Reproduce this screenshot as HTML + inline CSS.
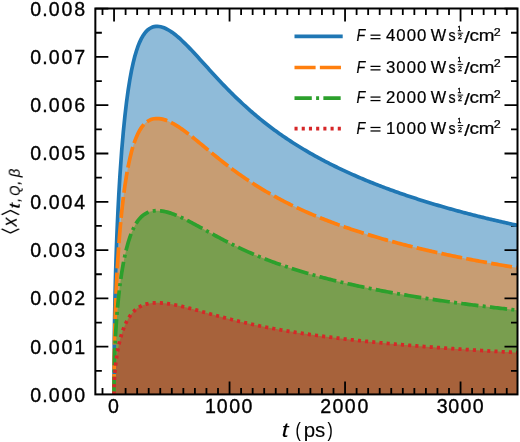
<!DOCTYPE html>
<html><head><meta charset="utf-8"><style>
html,body{margin:0;padding:0;background:#fff;}
svg{display:block;filter:blur(0.4px);font-family:"Liberation Sans",sans-serif;}
text{stroke:#000;stroke-width:0.105px;}
.tk text{stroke-width:0.35px;}
.lg text{stroke-width:0.21px;}
.lg text.fr{stroke-width:0.35px;}
</style></head><body>
<svg width="520" height="442" viewBox="0 0 520 442">
<rect width="520" height="442" fill="#fff"/>
<g style="will-change:transform">
<defs><clipPath id="ax"><rect x="95.35" y="8.5" width="422.15" height="385.9"/></clipPath></defs>
<g clip-path="url(#ax)"><path d="M114.05,395.00 L114.05,393.51 L114.05,393.38 L114.05,393.23 L114.05,393.07 L114.05,392.90 L114.05,392.72 L114.05,392.52 L114.05,392.30 L114.05,392.06 L114.05,391.79 L114.05,391.51 L114.05,391.20 L114.05,390.86 L114.05,390.50 L114.05,390.10 L114.05,389.66 L114.05,389.19 L114.05,388.68 L114.05,388.12 L114.05,387.51 L114.05,386.84 L114.06,386.12 L114.06,385.33 L114.06,384.47 L114.06,383.54 L114.06,382.52 L114.06,381.42 L114.07,380.21 L114.07,378.90 L114.07,377.48 L114.08,375.92 L114.08,374.23 L114.09,372.39 L114.10,370.39 L114.11,368.20 L114.12,365.83 L114.14,363.24 L114.15,360.43 L114.17,357.36 L114.20,354.03 L114.23,350.40 L114.26,346.45 L114.31,342.15 L114.36,337.47 L114.42,332.37 L114.49,326.83 L114.58,320.80 L114.69,314.24 L114.82,307.11 L114.97,299.37 L115.16,290.95 L115.38,281.81 L115.65,271.90 L115.97,261.17 L116.36,249.56 L116.82,237.04 L117.38,223.56 L118.05,209.11 L118.86,193.70 L119.83,177.36 L120.06,173.76 L121.68,150.98 L123.31,131.92 L124.94,115.74 L126.56,101.90 L128.19,90.00 L129.82,79.76 L131.44,70.93 L133.07,63.33 L134.70,56.80 L136.32,51.20 L137.95,46.41 L139.58,42.34 L141.20,38.90 L142.83,36.00 L144.46,33.59 L146.08,31.61 L147.71,30.01 L149.34,28.75 L150.97,27.78 L152.59,27.09 L154.22,26.63 L155.85,26.39 L157.47,26.34 L159.10,26.47 L160.73,26.77 L162.35,27.21 L163.98,27.79 L165.61,28.49 L167.23,29.31 L168.86,30.23 L170.49,31.25 L172.11,32.36 L173.74,33.54 L175.37,34.81 L176.99,36.14 L178.62,37.53 L180.25,38.98 L181.87,40.49 L183.50,42.04 L185.13,43.63 L186.76,45.25 L188.38,46.91 L190.01,48.60 L191.64,50.31 L193.26,52.05 L194.89,53.80 L196.52,55.56 L198.14,57.34 L199.77,59.13 L201.40,60.92 L203.02,62.72 L204.65,64.51 L206.28,66.31 L207.90,68.11 L209.53,69.90 L211.16,71.68 L212.78,73.46 L214.41,75.23 L216.04,76.99 L217.66,78.74 L219.29,80.48 L220.92,82.20 L222.55,83.91 L224.17,85.61 L225.80,87.29 L227.43,88.96 L229.05,90.62 L230.68,92.25 L232.31,93.87 L233.93,95.48 L235.56,97.06 L237.19,98.63 L238.81,100.19 L240.44,101.72 L242.07,103.24 L243.69,104.74 L245.32,106.23 L246.95,107.69 L248.57,109.14 L250.20,110.58 L251.83,111.99 L253.45,113.39 L255.08,114.78 L256.71,116.14 L258.33,117.49 L259.96,118.83 L261.59,120.15 L263.22,121.45 L264.84,122.74 L266.47,124.01 L268.10,125.26 L269.72,126.50 L271.35,127.73 L272.98,128.94 L274.60,130.14 L276.23,131.33 L277.86,132.50 L279.48,133.65 L281.11,134.79 L282.74,135.92 L284.36,137.04 L285.99,138.14 L287.62,139.24 L289.24,140.31 L290.87,141.38 L292.50,142.44 L294.12,143.48 L295.75,144.51 L297.38,145.53 L299.01,146.54 L300.63,147.54 L302.26,148.52 L303.89,149.50 L305.51,150.46 L307.14,151.42 L308.77,152.36 L310.39,153.30 L312.02,154.22 L313.65,155.14 L315.27,156.05 L316.90,156.94 L318.53,157.83 L320.15,158.71 L321.78,159.58 L323.41,160.44 L325.03,161.29 L326.66,162.14 L328.29,162.97 L329.91,163.80 L331.54,164.62 L333.17,165.43 L334.80,166.24 L336.42,167.03 L338.05,167.82 L339.68,168.60 L341.30,169.37 L342.93,170.14 L344.56,170.90 L346.18,171.65 L347.81,172.40 L349.44,173.14 L351.06,173.87 L352.69,174.59 L354.32,175.31 L355.94,176.03 L357.57,176.73 L359.20,177.43 L360.82,178.13 L362.45,178.81 L364.08,179.50 L365.70,180.17 L367.33,180.84 L368.96,181.51 L370.58,182.17 L372.21,182.82 L373.84,183.47 L375.47,184.11 L377.09,184.75 L378.72,185.38 L380.35,186.01 L381.97,186.63 L383.60,187.24 L385.23,187.86 L386.85,188.46 L388.48,189.06 L390.11,189.66 L391.73,190.25 L393.36,190.84 L394.99,191.43 L396.61,192.00 L398.24,192.58 L399.87,193.15 L401.49,193.71 L403.12,194.27 L404.75,194.83 L406.37,195.38 L408.00,195.93 L409.63,196.48 L411.26,197.02 L412.88,197.55 L414.51,198.08 L416.14,198.61 L417.76,199.14 L419.39,199.66 L421.02,200.17 L422.64,200.69 L424.27,201.20 L425.90,201.70 L427.52,202.20 L429.15,202.70 L430.78,203.20 L432.40,203.69 L434.03,204.18 L435.66,204.66 L437.28,205.14 L438.91,205.62 L440.54,206.10 L442.16,206.57 L443.79,207.04 L445.42,207.50 L447.04,207.96 L448.67,208.42 L450.30,208.88 L451.93,209.33 L453.55,209.78 L455.18,210.23 L456.81,210.67 L458.43,211.11 L460.06,211.55 L461.69,211.99 L463.31,212.42 L464.94,212.85 L466.57,213.28 L468.19,213.70 L469.82,214.12 L471.45,214.54 L473.07,214.96 L474.70,215.37 L476.33,215.78 L477.95,216.19 L479.58,216.59 L481.21,217.00 L482.83,217.40 L484.46,217.80 L486.09,218.19 L487.72,218.59 L489.34,218.98 L490.97,219.36 L492.60,219.75 L494.22,220.13 L495.85,220.52 L497.48,220.90 L499.10,221.27 L500.73,221.65 L502.36,222.02 L503.98,222.39 L505.61,222.76 L507.24,223.12 L508.86,223.49 L510.49,223.85 L512.12,224.21 L513.74,224.57 L515.37,224.92 L517.00,225.28 L518.62,225.63 L520.25,225.98 L521.88,226.33 L523.51,226.67 L525.13,227.01 L526.76,227.36 L528.39,227.70 L530.01,228.03 L531.64,228.37 L533.27,228.70 L534.89,229.04 L536.52,229.37 L538.15,229.70 L539.77,230.02 L541.40,230.35 L541.40,395.00 L114.05,395.00 Z" fill="#1f77b4" fill-opacity="0.5"/><path d="M114.05,395.00 L114.05,393.88 L114.05,393.78 L114.05,393.67 L114.05,393.56 L114.05,393.43 L114.05,393.29 L114.05,393.14 L114.05,392.97 L114.05,392.79 L114.05,392.60 L114.05,392.38 L114.05,392.15 L114.05,391.90 L114.05,391.62 L114.05,391.32 L114.05,391.00 L114.05,390.64 L114.05,390.26 L114.05,389.84 L114.05,389.38 L114.05,388.88 L114.06,388.34 L114.06,387.75 L114.06,387.10 L114.06,386.40 L114.06,385.64 L114.06,384.81 L114.07,383.91 L114.07,382.93 L114.07,381.86 L114.08,380.69 L114.08,379.42 L114.09,378.04 L114.10,376.54 L114.11,374.90 L114.12,373.12 L114.14,371.18 L114.15,369.07 L114.17,366.77 L114.20,364.27 L114.23,361.55 L114.26,358.59 L114.31,355.36 L114.36,351.85 L114.42,348.03 L114.49,343.87 L114.58,339.35 L114.69,334.43 L114.82,329.09 L114.97,323.27 L115.16,316.96 L115.38,310.11 L115.65,302.68 L115.97,294.63 L116.36,285.92 L116.82,276.53 L117.38,266.42 L118.05,255.58 L118.86,244.02 L119.83,231.77 L120.06,229.07 L121.68,211.99 L123.31,197.69 L124.94,185.55 L126.56,175.17 L128.19,166.25 L129.82,158.57 L131.44,151.95 L133.07,146.25 L134.70,141.35 L136.32,137.15 L137.95,133.56 L139.58,130.51 L141.20,127.92 L142.83,125.75 L144.46,123.95 L146.08,122.46 L147.71,121.26 L149.34,120.31 L150.97,119.59 L152.59,119.06 L154.22,118.72 L155.85,118.54 L157.47,118.51 L159.10,118.61 L160.73,118.83 L162.35,119.16 L163.98,119.59 L165.61,120.12 L167.23,120.73 L168.86,121.42 L170.49,122.19 L172.11,123.02 L173.74,123.91 L175.37,124.86 L176.99,125.85 L178.62,126.90 L180.25,127.99 L181.87,129.12 L183.50,130.28 L185.13,131.47 L186.76,132.69 L188.38,133.93 L190.01,135.20 L191.64,136.48 L193.26,137.78 L194.89,139.10 L196.52,140.42 L198.14,141.76 L199.77,143.10 L201.40,144.44 L203.02,145.79 L204.65,147.14 L206.28,148.48 L207.90,149.83 L209.53,151.17 L211.16,152.51 L212.78,153.85 L214.41,155.17 L216.04,156.49 L217.66,157.80 L219.29,159.11 L220.92,160.40 L222.55,161.69 L224.17,162.96 L225.80,164.22 L227.43,165.47 L229.05,166.71 L230.68,167.94 L232.31,169.15 L233.93,170.36 L235.56,171.55 L237.19,172.72 L238.81,173.89 L240.44,175.04 L242.07,176.18 L243.69,177.31 L245.32,178.42 L246.95,179.52 L248.57,180.61 L250.20,181.68 L251.83,182.75 L253.45,183.79 L255.08,184.83 L256.71,185.86 L258.33,186.87 L259.96,187.87 L261.59,188.86 L263.22,189.84 L264.84,190.80 L266.47,191.75 L268.10,192.70 L269.72,193.63 L271.35,194.55 L272.98,195.46 L274.60,196.36 L276.23,197.24 L277.86,198.12 L279.48,198.99 L281.11,199.85 L282.74,200.69 L284.36,201.53 L285.99,202.36 L287.62,203.18 L289.24,203.99 L290.87,204.79 L292.50,205.58 L294.12,206.36 L295.75,207.13 L297.38,207.90 L299.01,208.65 L300.63,209.40 L302.26,210.14 L303.89,210.87 L305.51,211.60 L307.14,212.31 L308.77,213.02 L310.39,213.72 L312.02,214.42 L313.65,215.11 L315.27,215.78 L316.90,216.46 L318.53,217.12 L320.15,217.78 L321.78,218.43 L323.41,219.08 L325.03,219.72 L326.66,220.35 L328.29,220.98 L329.91,221.60 L331.54,222.22 L333.17,222.82 L334.80,223.43 L336.42,224.02 L338.05,224.62 L339.68,225.20 L341.30,225.78 L342.93,226.36 L344.56,226.93 L346.18,227.49 L347.81,228.05 L349.44,228.60 L351.06,229.15 L352.69,229.70 L354.32,230.24 L355.94,230.77 L357.57,231.30 L359.20,231.82 L360.82,232.35 L362.45,232.86 L364.08,233.37 L365.70,233.88 L367.33,234.38 L368.96,234.88 L370.58,235.37 L372.21,235.86 L373.84,236.35 L375.47,236.83 L377.09,237.31 L378.72,237.78 L380.35,238.25 L381.97,238.72 L383.60,239.18 L385.23,239.64 L386.85,240.10 L388.48,240.55 L390.11,241.00 L391.73,241.44 L393.36,241.88 L394.99,242.32 L396.61,242.75 L398.24,243.18 L399.87,243.61 L401.49,244.03 L403.12,244.46 L404.75,244.87 L406.37,245.29 L408.00,245.70 L409.63,246.11 L411.26,246.51 L412.88,246.91 L414.51,247.31 L416.14,247.71 L417.76,248.10 L419.39,248.49 L421.02,248.88 L422.64,249.27 L424.27,249.65 L425.90,250.03 L427.52,250.40 L429.15,250.78 L430.78,251.15 L432.40,251.52 L434.03,251.88 L435.66,252.25 L437.28,252.61 L438.91,252.97 L440.54,253.32 L442.16,253.68 L443.79,254.03 L445.42,254.38 L447.04,254.72 L448.67,255.07 L450.30,255.41 L451.93,255.75 L453.55,256.09 L455.18,256.42 L456.81,256.75 L458.43,257.09 L460.06,257.41 L461.69,257.74 L463.31,258.06 L464.94,258.39 L466.57,258.71 L468.19,259.02 L469.82,259.34 L471.45,259.65 L473.07,259.97 L474.70,260.28 L476.33,260.58 L477.95,260.89 L479.58,261.20 L481.21,261.50 L482.83,261.80 L484.46,262.10 L486.09,262.39 L487.72,262.69 L489.34,262.98 L490.97,263.27 L492.60,263.56 L494.22,263.85 L495.85,264.14 L497.48,264.42 L499.10,264.70 L500.73,264.99 L502.36,265.26 L503.98,265.54 L505.61,265.82 L507.24,266.09 L508.86,266.37 L510.49,266.64 L512.12,266.91 L513.74,267.18 L515.37,267.44 L517.00,267.71 L518.62,267.97 L520.25,268.23 L521.88,268.49 L523.51,268.75 L525.13,269.01 L526.76,269.27 L528.39,269.52 L530.01,269.78 L531.64,270.03 L533.27,270.28 L534.89,270.53 L536.52,270.78 L538.15,271.02 L539.77,271.27 L541.40,271.51 L541.40,395.00 L114.05,395.00 Z" fill="#ff7f0e" fill-opacity="0.5"/><path d="M114.05,395.00 L114.05,394.25 L114.05,394.19 L114.05,394.12 L114.05,394.04 L114.05,393.95 L114.05,393.86 L114.05,393.76 L114.05,393.65 L114.05,393.53 L114.05,393.40 L114.05,393.26 L114.05,393.10 L114.05,392.93 L114.05,392.75 L114.05,392.55 L114.05,392.33 L114.05,392.10 L114.05,391.84 L114.05,391.56 L114.05,391.25 L114.05,390.92 L114.06,390.56 L114.06,390.17 L114.06,389.74 L114.06,389.27 L114.06,388.76 L114.06,388.21 L114.07,387.61 L114.07,386.95 L114.07,386.24 L114.08,385.46 L114.08,384.62 L114.09,383.70 L114.10,382.69 L114.11,381.60 L114.12,380.41 L114.14,379.12 L114.15,377.71 L114.17,376.18 L114.20,374.51 L114.23,372.70 L114.26,370.72 L114.31,368.57 L114.36,366.23 L114.42,363.69 L114.49,360.92 L114.58,357.90 L114.69,354.62 L114.82,351.06 L114.97,347.18 L115.16,342.97 L115.38,338.41 L115.65,333.45 L115.97,328.09 L116.36,322.28 L116.82,316.02 L117.38,309.28 L118.05,302.06 L118.86,294.35 L119.83,286.18 L120.06,284.38 L121.68,272.99 L123.31,263.46 L124.94,255.37 L126.56,248.45 L128.19,242.50 L129.82,237.38 L131.44,232.97 L133.07,229.17 L134.70,225.90 L136.32,223.10 L137.95,220.71 L139.58,218.67 L141.20,216.95 L142.83,215.50 L144.46,214.30 L146.08,213.31 L147.71,212.51 L149.34,211.87 L150.97,211.39 L152.59,211.04 L154.22,210.81 L155.85,210.69 L157.47,210.67 L159.10,210.74 L160.73,210.88 L162.35,211.11 L163.98,211.39 L165.61,211.75 L167.23,212.15 L168.86,212.61 L170.49,213.12 L172.11,213.68 L173.74,214.27 L175.37,214.90 L176.99,215.57 L178.62,216.27 L180.25,216.99 L181.87,217.74 L183.50,218.52 L185.13,219.31 L186.76,220.13 L188.38,220.96 L190.01,221.80 L191.64,222.66 L193.26,223.52 L194.89,224.40 L196.52,225.28 L198.14,226.17 L199.77,227.06 L201.40,227.96 L203.02,228.86 L204.65,229.76 L206.28,230.66 L207.90,231.55 L209.53,232.45 L211.16,233.34 L212.78,234.23 L214.41,235.12 L216.04,236.00 L217.66,236.87 L219.29,237.74 L220.92,238.60 L222.55,239.46 L224.17,240.31 L225.80,241.15 L227.43,241.98 L229.05,242.81 L230.68,243.63 L232.31,244.44 L233.93,245.24 L235.56,246.03 L237.19,246.82 L238.81,247.59 L240.44,248.36 L242.07,249.12 L243.69,249.87 L245.32,250.61 L246.95,251.35 L248.57,252.07 L250.20,252.79 L251.83,253.50 L253.45,254.20 L255.08,254.89 L256.71,255.57 L258.33,256.25 L259.96,256.91 L261.59,257.57 L263.22,258.22 L264.84,258.87 L266.47,259.50 L268.10,260.13 L269.72,260.75 L271.35,261.37 L272.98,261.97 L274.60,262.57 L276.23,263.16 L277.86,263.75 L279.48,264.33 L281.11,264.90 L282.74,265.46 L284.36,266.02 L285.99,266.57 L287.62,267.12 L289.24,267.66 L290.87,268.19 L292.50,268.72 L294.12,269.24 L295.75,269.75 L297.38,270.26 L299.01,270.77 L300.63,271.27 L302.26,271.76 L303.89,272.25 L305.51,272.73 L307.14,273.21 L308.77,273.68 L310.39,274.15 L312.02,274.61 L313.65,275.07 L315.27,275.52 L316.90,275.97 L318.53,276.42 L320.15,276.85 L321.78,277.29 L323.41,277.72 L325.03,278.15 L326.66,278.57 L328.29,278.99 L329.91,279.40 L331.54,279.81 L333.17,280.22 L334.80,280.62 L336.42,281.02 L338.05,281.41 L339.68,281.80 L341.30,282.19 L342.93,282.57 L344.56,282.95 L346.18,283.33 L347.81,283.70 L349.44,284.07 L351.06,284.43 L352.69,284.80 L354.32,285.16 L355.94,285.51 L357.57,285.87 L359.20,286.22 L360.82,286.56 L362.45,286.91 L364.08,287.25 L365.70,287.59 L367.33,287.92 L368.96,288.25 L370.58,288.58 L372.21,288.91 L373.84,289.23 L375.47,289.56 L377.09,289.87 L378.72,290.19 L380.35,290.50 L381.97,290.81 L383.60,291.12 L385.23,291.43 L386.85,291.73 L388.48,292.03 L390.11,292.33 L391.73,292.63 L393.36,292.92 L394.99,293.21 L396.61,293.50 L398.24,293.79 L399.87,294.07 L401.49,294.36 L403.12,294.64 L404.75,294.92 L406.37,295.19 L408.00,295.47 L409.63,295.74 L411.26,296.01 L412.88,296.28 L414.51,296.54 L416.14,296.81 L417.76,297.07 L419.39,297.33 L421.02,297.59 L422.64,297.84 L424.27,298.10 L425.90,298.35 L427.52,298.60 L429.15,298.85 L430.78,299.10 L432.40,299.35 L434.03,299.59 L435.66,299.83 L437.28,300.07 L438.91,300.31 L440.54,300.55 L442.16,300.78 L443.79,301.02 L445.42,301.25 L447.04,301.48 L448.67,301.71 L450.30,301.94 L451.93,302.17 L453.55,302.39 L455.18,302.61 L456.81,302.84 L458.43,303.06 L460.06,303.28 L461.69,303.49 L463.31,303.71 L464.94,303.92 L466.57,304.14 L468.19,304.35 L469.82,304.56 L471.45,304.77 L473.07,304.98 L474.70,305.18 L476.33,305.39 L477.95,305.59 L479.58,305.80 L481.21,306.00 L482.83,306.20 L484.46,306.40 L486.09,306.60 L487.72,306.79 L489.34,306.99 L490.97,307.18 L492.60,307.38 L494.22,307.57 L495.85,307.76 L497.48,307.95 L499.10,308.14 L500.73,308.32 L502.36,308.51 L503.98,308.70 L505.61,308.88 L507.24,309.06 L508.86,309.24 L510.49,309.43 L512.12,309.60 L513.74,309.78 L515.37,309.96 L517.00,310.14 L518.62,310.31 L520.25,310.49 L521.88,310.66 L523.51,310.84 L525.13,311.01 L526.76,311.18 L528.39,311.35 L530.01,311.52 L531.64,311.68 L533.27,311.85 L534.89,312.02 L536.52,312.18 L538.15,312.35 L539.77,312.51 L541.40,312.67 L541.40,395.00 L114.05,395.00 Z" fill="#2ca02c" fill-opacity="0.5"/><path d="M114.05,395.00 L114.05,394.63 L114.05,394.59 L114.05,394.56 L114.05,394.52 L114.05,394.48 L114.05,394.43 L114.05,394.38 L114.05,394.32 L114.05,394.26 L114.05,394.20 L114.05,394.13 L114.05,394.05 L114.05,393.97 L114.05,393.87 L114.05,393.77 L114.05,393.67 L114.05,393.55 L114.05,393.42 L114.05,393.28 L114.05,393.13 L114.05,392.96 L114.06,392.78 L114.06,392.58 L114.06,392.37 L114.06,392.13 L114.06,391.88 L114.06,391.60 L114.07,391.30 L114.07,390.98 L114.07,390.62 L114.08,390.23 L114.08,389.81 L114.09,389.35 L114.10,388.85 L114.11,388.30 L114.12,387.71 L114.14,387.06 L114.15,386.36 L114.17,385.59 L114.20,384.76 L114.23,383.85 L114.26,382.86 L114.31,381.79 L114.36,380.62 L114.42,379.34 L114.49,377.96 L114.58,376.45 L114.69,374.81 L114.82,373.03 L114.97,371.09 L115.16,368.99 L115.38,366.70 L115.65,364.23 L115.97,361.54 L116.36,358.64 L116.82,355.51 L117.38,352.14 L118.05,348.53 L118.86,344.67 L119.83,340.59 L120.06,339.69 L121.68,334.00 L123.31,329.23 L124.94,325.18 L126.56,321.72 L128.19,318.75 L129.82,316.19 L131.44,313.98 L133.07,312.08 L134.70,310.45 L136.32,309.05 L137.95,307.85 L139.58,306.84 L141.20,305.97 L142.83,305.25 L144.46,304.65 L146.08,304.15 L147.71,303.75 L149.34,303.44 L150.97,303.20 L152.59,303.02 L154.22,302.91 L155.85,302.85 L157.47,302.84 L159.10,302.87 L160.73,302.94 L162.35,303.05 L163.98,303.20 L165.61,303.37 L167.23,303.58 L168.86,303.81 L170.49,304.06 L172.11,304.34 L173.74,304.64 L175.37,304.95 L176.99,305.28 L178.62,305.63 L180.25,306.00 L181.87,306.37 L183.50,306.76 L185.13,307.16 L186.76,307.56 L188.38,307.98 L190.01,308.40 L191.64,308.83 L193.26,309.26 L194.89,309.70 L196.52,310.14 L198.14,310.59 L199.77,311.03 L201.40,311.48 L203.02,311.93 L204.65,312.38 L206.28,312.83 L207.90,313.28 L209.53,313.72 L211.16,314.17 L212.78,314.62 L214.41,315.06 L216.04,315.50 L217.66,315.93 L219.29,316.37 L220.92,316.80 L222.55,317.23 L224.17,317.65 L225.80,318.07 L227.43,318.49 L229.05,318.90 L230.68,319.31 L232.31,319.72 L233.93,320.12 L235.56,320.52 L237.19,320.91 L238.81,321.30 L240.44,321.68 L242.07,322.06 L243.69,322.44 L245.32,322.81 L246.95,323.17 L248.57,323.54 L250.20,323.89 L251.83,324.25 L253.45,324.60 L255.08,324.94 L256.71,325.29 L258.33,325.62 L259.96,325.96 L261.59,326.29 L263.22,326.61 L264.84,326.93 L266.47,327.25 L268.10,327.57 L269.72,327.88 L271.35,328.18 L272.98,328.49 L274.60,328.79 L276.23,329.08 L277.86,329.37 L279.48,329.66 L281.11,329.95 L282.74,330.23 L284.36,330.51 L285.99,330.79 L287.62,331.06 L289.24,331.33 L290.87,331.60 L292.50,331.86 L294.12,332.12 L295.75,332.38 L297.38,332.63 L299.01,332.88 L300.63,333.13 L302.26,333.38 L303.89,333.62 L305.51,333.87 L307.14,334.10 L308.77,334.34 L310.39,334.57 L312.02,334.81 L313.65,335.04 L315.27,335.26 L316.90,335.49 L318.53,335.71 L320.15,335.93 L321.78,336.14 L323.41,336.36 L325.03,336.57 L326.66,336.78 L328.29,336.99 L329.91,337.20 L331.54,337.41 L333.17,337.61 L334.80,337.81 L336.42,338.01 L338.05,338.21 L339.68,338.40 L341.30,338.59 L342.93,338.79 L344.56,338.98 L346.18,339.16 L347.81,339.35 L349.44,339.53 L351.06,339.72 L352.69,339.90 L354.32,340.08 L355.94,340.26 L357.57,340.43 L359.20,340.61 L360.82,340.78 L362.45,340.95 L364.08,341.12 L365.70,341.29 L367.33,341.46 L368.96,341.63 L370.58,341.79 L372.21,341.95 L373.84,342.12 L375.47,342.28 L377.09,342.44 L378.72,342.59 L380.35,342.75 L381.97,342.91 L383.60,343.06 L385.23,343.21 L386.85,343.37 L388.48,343.52 L390.11,343.67 L391.73,343.81 L393.36,343.96 L394.99,344.11 L396.61,344.25 L398.24,344.39 L399.87,344.54 L401.49,344.68 L403.12,344.82 L404.75,344.96 L406.37,345.10 L408.00,345.23 L409.63,345.37 L411.26,345.50 L412.88,345.64 L414.51,345.77 L416.14,345.90 L417.76,346.03 L419.39,346.16 L421.02,346.29 L422.64,346.42 L424.27,346.55 L425.90,346.68 L427.52,346.80 L429.15,346.93 L430.78,347.05 L432.40,347.17 L434.03,347.29 L435.66,347.42 L437.28,347.54 L438.91,347.66 L440.54,347.77 L442.16,347.89 L443.79,348.01 L445.42,348.13 L447.04,348.24 L448.67,348.36 L450.30,348.47 L451.93,348.58 L453.55,348.70 L455.18,348.81 L456.81,348.92 L458.43,349.03 L460.06,349.14 L461.69,349.25 L463.31,349.35 L464.94,349.46 L466.57,349.57 L468.19,349.67 L469.82,349.78 L471.45,349.88 L473.07,349.99 L474.70,350.09 L476.33,350.19 L477.95,350.30 L479.58,350.40 L481.21,350.50 L482.83,350.60 L484.46,350.70 L486.09,350.80 L487.72,350.90 L489.34,350.99 L490.97,351.09 L492.60,351.19 L494.22,351.28 L495.85,351.38 L497.48,351.47 L499.10,351.57 L500.73,351.66 L502.36,351.75 L503.98,351.85 L505.61,351.94 L507.24,352.03 L508.86,352.12 L510.49,352.21 L512.12,352.30 L513.74,352.39 L515.37,352.48 L517.00,352.57 L518.62,352.66 L520.25,352.74 L521.88,352.83 L523.51,352.92 L525.13,353.00 L526.76,353.09 L528.39,353.17 L530.01,353.26 L531.64,353.34 L533.27,353.43 L534.89,353.51 L536.52,353.59 L538.15,353.67 L539.77,353.76 L541.40,353.84 L541.40,395.00 L114.05,395.00 Z" fill="#d62728" fill-opacity="0.5"/></g>
<path d="M102.50,8.5v6.5M102.50,394.4v-6.5M114.05,8.5v13.0M114.05,394.4v-13.0M125.60,8.5v6.5M125.60,394.4v-6.5M137.15,8.5v6.5M137.15,394.4v-6.5M148.70,8.5v6.5M148.70,394.4v-6.5M160.25,8.5v6.5M160.25,394.4v-6.5M171.80,8.5v6.5M171.80,394.4v-6.5M183.35,8.5v6.5M183.35,394.4v-6.5M194.90,8.5v6.5M194.90,394.4v-6.5M206.45,8.5v6.5M206.45,394.4v-6.5M218.00,8.5v6.5M218.00,394.4v-6.5M229.55,8.5v13.0M229.55,394.4v-13.0M241.10,8.5v6.5M241.10,394.4v-6.5M252.65,8.5v6.5M252.65,394.4v-6.5M264.20,8.5v6.5M264.20,394.4v-6.5M275.75,8.5v6.5M275.75,394.4v-6.5M287.30,8.5v6.5M287.30,394.4v-6.5M298.85,8.5v6.5M298.85,394.4v-6.5M310.40,8.5v6.5M310.40,394.4v-6.5M321.95,8.5v6.5M321.95,394.4v-6.5M333.50,8.5v6.5M333.50,394.4v-6.5M345.05,8.5v13.0M345.05,394.4v-13.0M356.60,8.5v6.5M356.60,394.4v-6.5M368.15,8.5v6.5M368.15,394.4v-6.5M379.70,8.5v6.5M379.70,394.4v-6.5M391.25,8.5v6.5M391.25,394.4v-6.5M402.80,8.5v6.5M402.80,394.4v-6.5M414.35,8.5v6.5M414.35,394.4v-6.5M425.90,8.5v6.5M425.90,394.4v-6.5M437.45,8.5v6.5M437.45,394.4v-6.5M449.00,8.5v6.5M449.00,394.4v-6.5M460.55,8.5v13.0M460.55,394.4v-13.0M472.10,8.5v6.5M472.10,394.4v-6.5M483.65,8.5v6.5M483.65,394.4v-6.5M495.20,8.5v6.5M495.20,394.4v-6.5M506.75,8.5v6.5M506.75,394.4v-6.5M95.35,370.85h6.5M517.5,370.85h-6.5M95.35,346.70h13.0M517.5,346.70h-13.0M95.35,322.55h6.5M517.5,322.55h-6.5M95.35,298.40h13.0M517.5,298.40h-13.0M95.35,274.25h6.5M517.5,274.25h-6.5M95.35,250.10h13.0M517.5,250.10h-13.0M95.35,225.95h6.5M517.5,225.95h-6.5M95.35,201.80h13.0M517.5,201.80h-13.0M95.35,177.65h6.5M517.5,177.65h-6.5M95.35,153.50h13.0M517.5,153.50h-13.0M95.35,129.35h6.5M517.5,129.35h-6.5M95.35,105.20h13.0M517.5,105.20h-13.0M95.35,81.05h6.5M517.5,81.05h-6.5M95.35,56.90h13.0M517.5,56.90h-13.0M95.35,32.75h6.5M517.5,32.75h-6.5M95.35,8.60h13.0M517.5,8.60h-13.0" stroke="#000" stroke-width="1.8" fill="none"/>
<g clip-path="url(#ax)"><path d="M114.05,395.00 L114.05,393.51 L114.05,393.38 L114.05,393.23 L114.05,393.07 L114.05,392.90 L114.05,392.72 L114.05,392.52 L114.05,392.30 L114.05,392.06 L114.05,391.79 L114.05,391.51 L114.05,391.20 L114.05,390.86 L114.05,390.50 L114.05,390.10 L114.05,389.66 L114.05,389.19 L114.05,388.68 L114.05,388.12 L114.05,387.51 L114.05,386.84 L114.06,386.12 L114.06,385.33 L114.06,384.47 L114.06,383.54 L114.06,382.52 L114.06,381.42 L114.07,380.21 L114.07,378.90 L114.07,377.48 L114.08,375.92 L114.08,374.23 L114.09,372.39 L114.10,370.39 L114.11,368.20 L114.12,365.83 L114.14,363.24 L114.15,360.43 L114.17,357.36 L114.20,354.03 L114.23,350.40 L114.26,346.45 L114.31,342.15 L114.36,337.47 L114.42,332.37 L114.49,326.83 L114.58,320.80 L114.69,314.24 L114.82,307.11 L114.97,299.37 L115.16,290.95 L115.38,281.81 L115.65,271.90 L115.97,261.17 L116.36,249.56 L116.82,237.04 L117.38,223.56 L118.05,209.11 L118.86,193.70 L119.83,177.36 L120.06,173.76 L121.68,150.98 L123.31,131.92 L124.94,115.74 L126.56,101.90 L128.19,90.00 L129.82,79.76 L131.44,70.93 L133.07,63.33 L134.70,56.80 L136.32,51.20 L137.95,46.41 L139.58,42.34 L141.20,38.90 L142.83,36.00 L144.46,33.59 L146.08,31.61 L147.71,30.01 L149.34,28.75 L150.97,27.78 L152.59,27.09 L154.22,26.63 L155.85,26.39 L157.47,26.34 L159.10,26.47 L160.73,26.77 L162.35,27.21 L163.98,27.79 L165.61,28.49 L167.23,29.31 L168.86,30.23 L170.49,31.25 L172.11,32.36 L173.74,33.54 L175.37,34.81 L176.99,36.14 L178.62,37.53 L180.25,38.98 L181.87,40.49 L183.50,42.04 L185.13,43.63 L186.76,45.25 L188.38,46.91 L190.01,48.60 L191.64,50.31 L193.26,52.05 L194.89,53.80 L196.52,55.56 L198.14,57.34 L199.77,59.13 L201.40,60.92 L203.02,62.72 L204.65,64.51 L206.28,66.31 L207.90,68.11 L209.53,69.90 L211.16,71.68 L212.78,73.46 L214.41,75.23 L216.04,76.99 L217.66,78.74 L219.29,80.48 L220.92,82.20 L222.55,83.91 L224.17,85.61 L225.80,87.29 L227.43,88.96 L229.05,90.62 L230.68,92.25 L232.31,93.87 L233.93,95.48 L235.56,97.06 L237.19,98.63 L238.81,100.19 L240.44,101.72 L242.07,103.24 L243.69,104.74 L245.32,106.23 L246.95,107.69 L248.57,109.14 L250.20,110.58 L251.83,111.99 L253.45,113.39 L255.08,114.78 L256.71,116.14 L258.33,117.49 L259.96,118.83 L261.59,120.15 L263.22,121.45 L264.84,122.74 L266.47,124.01 L268.10,125.26 L269.72,126.50 L271.35,127.73 L272.98,128.94 L274.60,130.14 L276.23,131.33 L277.86,132.50 L279.48,133.65 L281.11,134.79 L282.74,135.92 L284.36,137.04 L285.99,138.14 L287.62,139.24 L289.24,140.31 L290.87,141.38 L292.50,142.44 L294.12,143.48 L295.75,144.51 L297.38,145.53 L299.01,146.54 L300.63,147.54 L302.26,148.52 L303.89,149.50 L305.51,150.46 L307.14,151.42 L308.77,152.36 L310.39,153.30 L312.02,154.22 L313.65,155.14 L315.27,156.05 L316.90,156.94 L318.53,157.83 L320.15,158.71 L321.78,159.58 L323.41,160.44 L325.03,161.29 L326.66,162.14 L328.29,162.97 L329.91,163.80 L331.54,164.62 L333.17,165.43 L334.80,166.24 L336.42,167.03 L338.05,167.82 L339.68,168.60 L341.30,169.37 L342.93,170.14 L344.56,170.90 L346.18,171.65 L347.81,172.40 L349.44,173.14 L351.06,173.87 L352.69,174.59 L354.32,175.31 L355.94,176.03 L357.57,176.73 L359.20,177.43 L360.82,178.13 L362.45,178.81 L364.08,179.50 L365.70,180.17 L367.33,180.84 L368.96,181.51 L370.58,182.17 L372.21,182.82 L373.84,183.47 L375.47,184.11 L377.09,184.75 L378.72,185.38 L380.35,186.01 L381.97,186.63 L383.60,187.24 L385.23,187.86 L386.85,188.46 L388.48,189.06 L390.11,189.66 L391.73,190.25 L393.36,190.84 L394.99,191.43 L396.61,192.00 L398.24,192.58 L399.87,193.15 L401.49,193.71 L403.12,194.27 L404.75,194.83 L406.37,195.38 L408.00,195.93 L409.63,196.48 L411.26,197.02 L412.88,197.55 L414.51,198.08 L416.14,198.61 L417.76,199.14 L419.39,199.66 L421.02,200.17 L422.64,200.69 L424.27,201.20 L425.90,201.70 L427.52,202.20 L429.15,202.70 L430.78,203.20 L432.40,203.69 L434.03,204.18 L435.66,204.66 L437.28,205.14 L438.91,205.62 L440.54,206.10 L442.16,206.57 L443.79,207.04 L445.42,207.50 L447.04,207.96 L448.67,208.42 L450.30,208.88 L451.93,209.33 L453.55,209.78 L455.18,210.23 L456.81,210.67 L458.43,211.11 L460.06,211.55 L461.69,211.99 L463.31,212.42 L464.94,212.85 L466.57,213.28 L468.19,213.70 L469.82,214.12 L471.45,214.54 L473.07,214.96 L474.70,215.37 L476.33,215.78 L477.95,216.19 L479.58,216.59 L481.21,217.00 L482.83,217.40 L484.46,217.80 L486.09,218.19 L487.72,218.59 L489.34,218.98 L490.97,219.36 L492.60,219.75 L494.22,220.13 L495.85,220.52 L497.48,220.90 L499.10,221.27 L500.73,221.65 L502.36,222.02 L503.98,222.39 L505.61,222.76 L507.24,223.12 L508.86,223.49 L510.49,223.85 L512.12,224.21 L513.74,224.57 L515.37,224.92 L517.00,225.28 L518.62,225.63 L520.25,225.98 L521.88,226.33 L523.51,226.67 L525.13,227.01 L526.76,227.36 L528.39,227.70 L530.01,228.03 L531.64,228.37 L533.27,228.70 L534.89,229.04 L536.52,229.37 L538.15,229.70 L539.77,230.02 L541.40,230.35" fill="none" stroke="#1f77b4" stroke-width="3.7"/><path d="M114.05,395.00 L114.05,393.88 L114.05,393.78 L114.05,393.67 L114.05,393.56 L114.05,393.43 L114.05,393.29 L114.05,393.14 L114.05,392.97 L114.05,392.79 L114.05,392.60 L114.05,392.38 L114.05,392.15 L114.05,391.90 L114.05,391.62 L114.05,391.32 L114.05,391.00 L114.05,390.64 L114.05,390.26 L114.05,389.84 L114.05,389.38 L114.05,388.88 L114.06,388.34 L114.06,387.75 L114.06,387.10 L114.06,386.40 L114.06,385.64 L114.06,384.81 L114.07,383.91 L114.07,382.93 L114.07,381.86 L114.08,380.69 L114.08,379.42 L114.09,378.04 L114.10,376.54 L114.11,374.90 L114.12,373.12 L114.14,371.18 L114.15,369.07 L114.17,366.77 L114.20,364.27 L114.23,361.55 L114.26,358.59 L114.31,355.36 L114.36,351.85 L114.42,348.03 L114.49,343.87 L114.58,339.35 L114.69,334.43 L114.82,329.09 L114.97,323.27 L115.16,316.96 L115.38,310.11 L115.65,302.68 L115.97,294.63 L116.36,285.92 L116.82,276.53 L117.38,266.42 L118.05,255.58 L118.86,244.02 L119.83,231.77 L120.06,229.07 L121.68,211.99 L123.31,197.69 L124.94,185.55 L126.56,175.17 L128.19,166.25 L129.82,158.57 L131.44,151.95 L133.07,146.25 L134.70,141.35 L136.32,137.15 L137.95,133.56 L139.58,130.51 L141.20,127.92 L142.83,125.75 L144.46,123.95 L146.08,122.46 L147.71,121.26 L149.34,120.31 L150.97,119.59 L152.59,119.06 L154.22,118.72 L155.85,118.54 L157.47,118.51 L159.10,118.61 L160.73,118.83 L162.35,119.16 L163.98,119.59 L165.61,120.12 L167.23,120.73 L168.86,121.42 L170.49,122.19 L172.11,123.02 L173.74,123.91 L175.37,124.86 L176.99,125.85 L178.62,126.90 L180.25,127.99 L181.87,129.12 L183.50,130.28 L185.13,131.47 L186.76,132.69 L188.38,133.93 L190.01,135.20 L191.64,136.48 L193.26,137.78 L194.89,139.10 L196.52,140.42 L198.14,141.76 L199.77,143.10 L201.40,144.44 L203.02,145.79 L204.65,147.14 L206.28,148.48 L207.90,149.83 L209.53,151.17 L211.16,152.51 L212.78,153.85 L214.41,155.17 L216.04,156.49 L217.66,157.80 L219.29,159.11 L220.92,160.40 L222.55,161.69 L224.17,162.96 L225.80,164.22 L227.43,165.47 L229.05,166.71 L230.68,167.94 L232.31,169.15 L233.93,170.36 L235.56,171.55 L237.19,172.72 L238.81,173.89 L240.44,175.04 L242.07,176.18 L243.69,177.31 L245.32,178.42 L246.95,179.52 L248.57,180.61 L250.20,181.68 L251.83,182.75 L253.45,183.79 L255.08,184.83 L256.71,185.86 L258.33,186.87 L259.96,187.87 L261.59,188.86 L263.22,189.84 L264.84,190.80 L266.47,191.75 L268.10,192.70 L269.72,193.63 L271.35,194.55 L272.98,195.46 L274.60,196.36 L276.23,197.24 L277.86,198.12 L279.48,198.99 L281.11,199.85 L282.74,200.69 L284.36,201.53 L285.99,202.36 L287.62,203.18 L289.24,203.99 L290.87,204.79 L292.50,205.58 L294.12,206.36 L295.75,207.13 L297.38,207.90 L299.01,208.65 L300.63,209.40 L302.26,210.14 L303.89,210.87 L305.51,211.60 L307.14,212.31 L308.77,213.02 L310.39,213.72 L312.02,214.42 L313.65,215.11 L315.27,215.78 L316.90,216.46 L318.53,217.12 L320.15,217.78 L321.78,218.43 L323.41,219.08 L325.03,219.72 L326.66,220.35 L328.29,220.98 L329.91,221.60 L331.54,222.22 L333.17,222.82 L334.80,223.43 L336.42,224.02 L338.05,224.62 L339.68,225.20 L341.30,225.78 L342.93,226.36 L344.56,226.93 L346.18,227.49 L347.81,228.05 L349.44,228.60 L351.06,229.15 L352.69,229.70 L354.32,230.24 L355.94,230.77 L357.57,231.30 L359.20,231.82 L360.82,232.35 L362.45,232.86 L364.08,233.37 L365.70,233.88 L367.33,234.38 L368.96,234.88 L370.58,235.37 L372.21,235.86 L373.84,236.35 L375.47,236.83 L377.09,237.31 L378.72,237.78 L380.35,238.25 L381.97,238.72 L383.60,239.18 L385.23,239.64 L386.85,240.10 L388.48,240.55 L390.11,241.00 L391.73,241.44 L393.36,241.88 L394.99,242.32 L396.61,242.75 L398.24,243.18 L399.87,243.61 L401.49,244.03 L403.12,244.46 L404.75,244.87 L406.37,245.29 L408.00,245.70 L409.63,246.11 L411.26,246.51 L412.88,246.91 L414.51,247.31 L416.14,247.71 L417.76,248.10 L419.39,248.49 L421.02,248.88 L422.64,249.27 L424.27,249.65 L425.90,250.03 L427.52,250.40 L429.15,250.78 L430.78,251.15 L432.40,251.52 L434.03,251.88 L435.66,252.25 L437.28,252.61 L438.91,252.97 L440.54,253.32 L442.16,253.68 L443.79,254.03 L445.42,254.38 L447.04,254.72 L448.67,255.07 L450.30,255.41 L451.93,255.75 L453.55,256.09 L455.18,256.42 L456.81,256.75 L458.43,257.09 L460.06,257.41 L461.69,257.74 L463.31,258.06 L464.94,258.39 L466.57,258.71 L468.19,259.02 L469.82,259.34 L471.45,259.65 L473.07,259.97 L474.70,260.28 L476.33,260.58 L477.95,260.89 L479.58,261.20 L481.21,261.50 L482.83,261.80 L484.46,262.10 L486.09,262.39 L487.72,262.69 L489.34,262.98 L490.97,263.27 L492.60,263.56 L494.22,263.85 L495.85,264.14 L497.48,264.42 L499.10,264.70 L500.73,264.99 L502.36,265.26 L503.98,265.54 L505.61,265.82 L507.24,266.09 L508.86,266.37 L510.49,266.64 L512.12,266.91 L513.74,267.18 L515.37,267.44 L517.00,267.71 L518.62,267.97 L520.25,268.23 L521.88,268.49 L523.51,268.75 L525.13,269.01 L526.76,269.27 L528.39,269.52 L530.01,269.78 L531.64,270.03 L533.27,270.28 L534.89,270.53 L536.52,270.78 L538.15,271.02 L539.77,271.27 L541.40,271.51" fill="none" stroke="#ff7f0e" stroke-width="3.7" stroke-dasharray="21.1 4.26" stroke-dashoffset="0.17"/><path d="M114.05,395.00 L114.05,394.25 L114.05,394.19 L114.05,394.12 L114.05,394.04 L114.05,393.95 L114.05,393.86 L114.05,393.76 L114.05,393.65 L114.05,393.53 L114.05,393.40 L114.05,393.26 L114.05,393.10 L114.05,392.93 L114.05,392.75 L114.05,392.55 L114.05,392.33 L114.05,392.10 L114.05,391.84 L114.05,391.56 L114.05,391.25 L114.05,390.92 L114.06,390.56 L114.06,390.17 L114.06,389.74 L114.06,389.27 L114.06,388.76 L114.06,388.21 L114.07,387.61 L114.07,386.95 L114.07,386.24 L114.08,385.46 L114.08,384.62 L114.09,383.70 L114.10,382.69 L114.11,381.60 L114.12,380.41 L114.14,379.12 L114.15,377.71 L114.17,376.18 L114.20,374.51 L114.23,372.70 L114.26,370.72 L114.31,368.57 L114.36,366.23 L114.42,363.69 L114.49,360.92 L114.58,357.90 L114.69,354.62 L114.82,351.06 L114.97,347.18 L115.16,342.97 L115.38,338.41 L115.65,333.45 L115.97,328.09 L116.36,322.28 L116.82,316.02 L117.38,309.28 L118.05,302.06 L118.86,294.35 L119.83,286.18 L120.06,284.38 L121.68,272.99 L123.31,263.46 L124.94,255.37 L126.56,248.45 L128.19,242.50 L129.82,237.38 L131.44,232.97 L133.07,229.17 L134.70,225.90 L136.32,223.10 L137.95,220.71 L139.58,218.67 L141.20,216.95 L142.83,215.50 L144.46,214.30 L146.08,213.31 L147.71,212.51 L149.34,211.87 L150.97,211.39 L152.59,211.04 L154.22,210.81 L155.85,210.69 L157.47,210.67 L159.10,210.74 L160.73,210.88 L162.35,211.11 L163.98,211.39 L165.61,211.75 L167.23,212.15 L168.86,212.61 L170.49,213.12 L172.11,213.68 L173.74,214.27 L175.37,214.90 L176.99,215.57 L178.62,216.27 L180.25,216.99 L181.87,217.74 L183.50,218.52 L185.13,219.31 L186.76,220.13 L188.38,220.96 L190.01,221.80 L191.64,222.66 L193.26,223.52 L194.89,224.40 L196.52,225.28 L198.14,226.17 L199.77,227.06 L201.40,227.96 L203.02,228.86 L204.65,229.76 L206.28,230.66 L207.90,231.55 L209.53,232.45 L211.16,233.34 L212.78,234.23 L214.41,235.12 L216.04,236.00 L217.66,236.87 L219.29,237.74 L220.92,238.60 L222.55,239.46 L224.17,240.31 L225.80,241.15 L227.43,241.98 L229.05,242.81 L230.68,243.63 L232.31,244.44 L233.93,245.24 L235.56,246.03 L237.19,246.82 L238.81,247.59 L240.44,248.36 L242.07,249.12 L243.69,249.87 L245.32,250.61 L246.95,251.35 L248.57,252.07 L250.20,252.79 L251.83,253.50 L253.45,254.20 L255.08,254.89 L256.71,255.57 L258.33,256.25 L259.96,256.91 L261.59,257.57 L263.22,258.22 L264.84,258.87 L266.47,259.50 L268.10,260.13 L269.72,260.75 L271.35,261.37 L272.98,261.97 L274.60,262.57 L276.23,263.16 L277.86,263.75 L279.48,264.33 L281.11,264.90 L282.74,265.46 L284.36,266.02 L285.99,266.57 L287.62,267.12 L289.24,267.66 L290.87,268.19 L292.50,268.72 L294.12,269.24 L295.75,269.75 L297.38,270.26 L299.01,270.77 L300.63,271.27 L302.26,271.76 L303.89,272.25 L305.51,272.73 L307.14,273.21 L308.77,273.68 L310.39,274.15 L312.02,274.61 L313.65,275.07 L315.27,275.52 L316.90,275.97 L318.53,276.42 L320.15,276.85 L321.78,277.29 L323.41,277.72 L325.03,278.15 L326.66,278.57 L328.29,278.99 L329.91,279.40 L331.54,279.81 L333.17,280.22 L334.80,280.62 L336.42,281.02 L338.05,281.41 L339.68,281.80 L341.30,282.19 L342.93,282.57 L344.56,282.95 L346.18,283.33 L347.81,283.70 L349.44,284.07 L351.06,284.43 L352.69,284.80 L354.32,285.16 L355.94,285.51 L357.57,285.87 L359.20,286.22 L360.82,286.56 L362.45,286.91 L364.08,287.25 L365.70,287.59 L367.33,287.92 L368.96,288.25 L370.58,288.58 L372.21,288.91 L373.84,289.23 L375.47,289.56 L377.09,289.87 L378.72,290.19 L380.35,290.50 L381.97,290.81 L383.60,291.12 L385.23,291.43 L386.85,291.73 L388.48,292.03 L390.11,292.33 L391.73,292.63 L393.36,292.92 L394.99,293.21 L396.61,293.50 L398.24,293.79 L399.87,294.07 L401.49,294.36 L403.12,294.64 L404.75,294.92 L406.37,295.19 L408.00,295.47 L409.63,295.74 L411.26,296.01 L412.88,296.28 L414.51,296.54 L416.14,296.81 L417.76,297.07 L419.39,297.33 L421.02,297.59 L422.64,297.84 L424.27,298.10 L425.90,298.35 L427.52,298.60 L429.15,298.85 L430.78,299.10 L432.40,299.35 L434.03,299.59 L435.66,299.83 L437.28,300.07 L438.91,300.31 L440.54,300.55 L442.16,300.78 L443.79,301.02 L445.42,301.25 L447.04,301.48 L448.67,301.71 L450.30,301.94 L451.93,302.17 L453.55,302.39 L455.18,302.61 L456.81,302.84 L458.43,303.06 L460.06,303.28 L461.69,303.49 L463.31,303.71 L464.94,303.92 L466.57,304.14 L468.19,304.35 L469.82,304.56 L471.45,304.77 L473.07,304.98 L474.70,305.18 L476.33,305.39 L477.95,305.59 L479.58,305.80 L481.21,306.00 L482.83,306.20 L484.46,306.40 L486.09,306.60 L487.72,306.79 L489.34,306.99 L490.97,307.18 L492.60,307.38 L494.22,307.57 L495.85,307.76 L497.48,307.95 L499.10,308.14 L500.73,308.32 L502.36,308.51 L503.98,308.70 L505.61,308.88 L507.24,309.06 L508.86,309.24 L510.49,309.43 L512.12,309.60 L513.74,309.78 L515.37,309.96 L517.00,310.14 L518.62,310.31 L520.25,310.49 L521.88,310.66 L523.51,310.84 L525.13,311.01 L526.76,311.18 L528.39,311.35 L530.01,311.52 L531.64,311.68 L533.27,311.85 L534.89,312.02 L536.52,312.18 L538.15,312.35 L539.77,312.51 L541.40,312.67" fill="none" stroke="#2ca02c" stroke-width="3.7" stroke-dasharray="17.3 4.3 3.0 4.27" stroke-dashoffset="-0.9"/><path d="M114.05,395.00 L114.05,394.63 L114.05,394.59 L114.05,394.56 L114.05,394.52 L114.05,394.48 L114.05,394.43 L114.05,394.38 L114.05,394.32 L114.05,394.26 L114.05,394.20 L114.05,394.13 L114.05,394.05 L114.05,393.97 L114.05,393.87 L114.05,393.77 L114.05,393.67 L114.05,393.55 L114.05,393.42 L114.05,393.28 L114.05,393.13 L114.05,392.96 L114.06,392.78 L114.06,392.58 L114.06,392.37 L114.06,392.13 L114.06,391.88 L114.06,391.60 L114.07,391.30 L114.07,390.98 L114.07,390.62 L114.08,390.23 L114.08,389.81 L114.09,389.35 L114.10,388.85 L114.11,388.30 L114.12,387.71 L114.14,387.06 L114.15,386.36 L114.17,385.59 L114.20,384.76 L114.23,383.85 L114.26,382.86 L114.31,381.79 L114.36,380.62 L114.42,379.34 L114.49,377.96 L114.58,376.45 L114.69,374.81 L114.82,373.03 L114.97,371.09 L115.16,368.99 L115.38,366.70 L115.65,364.23 L115.97,361.54 L116.36,358.64 L116.82,355.51 L117.38,352.14 L118.05,348.53 L118.86,344.67 L119.83,340.59 L120.06,339.69 L121.68,334.00 L123.31,329.23 L124.94,325.18 L126.56,321.72 L128.19,318.75 L129.82,316.19 L131.44,313.98 L133.07,312.08 L134.70,310.45 L136.32,309.05 L137.95,307.85 L139.58,306.84 L141.20,305.97 L142.83,305.25 L144.46,304.65 L146.08,304.15 L147.71,303.75 L149.34,303.44 L150.97,303.20 L152.59,303.02 L154.22,302.91 L155.85,302.85 L157.47,302.84 L159.10,302.87 L160.73,302.94 L162.35,303.05 L163.98,303.20 L165.61,303.37 L167.23,303.58 L168.86,303.81 L170.49,304.06 L172.11,304.34 L173.74,304.64 L175.37,304.95 L176.99,305.28 L178.62,305.63 L180.25,306.00 L181.87,306.37 L183.50,306.76 L185.13,307.16 L186.76,307.56 L188.38,307.98 L190.01,308.40 L191.64,308.83 L193.26,309.26 L194.89,309.70 L196.52,310.14 L198.14,310.59 L199.77,311.03 L201.40,311.48 L203.02,311.93 L204.65,312.38 L206.28,312.83 L207.90,313.28 L209.53,313.72 L211.16,314.17 L212.78,314.62 L214.41,315.06 L216.04,315.50 L217.66,315.93 L219.29,316.37 L220.92,316.80 L222.55,317.23 L224.17,317.65 L225.80,318.07 L227.43,318.49 L229.05,318.90 L230.68,319.31 L232.31,319.72 L233.93,320.12 L235.56,320.52 L237.19,320.91 L238.81,321.30 L240.44,321.68 L242.07,322.06 L243.69,322.44 L245.32,322.81 L246.95,323.17 L248.57,323.54 L250.20,323.89 L251.83,324.25 L253.45,324.60 L255.08,324.94 L256.71,325.29 L258.33,325.62 L259.96,325.96 L261.59,326.29 L263.22,326.61 L264.84,326.93 L266.47,327.25 L268.10,327.57 L269.72,327.88 L271.35,328.18 L272.98,328.49 L274.60,328.79 L276.23,329.08 L277.86,329.37 L279.48,329.66 L281.11,329.95 L282.74,330.23 L284.36,330.51 L285.99,330.79 L287.62,331.06 L289.24,331.33 L290.87,331.60 L292.50,331.86 L294.12,332.12 L295.75,332.38 L297.38,332.63 L299.01,332.88 L300.63,333.13 L302.26,333.38 L303.89,333.62 L305.51,333.87 L307.14,334.10 L308.77,334.34 L310.39,334.57 L312.02,334.81 L313.65,335.04 L315.27,335.26 L316.90,335.49 L318.53,335.71 L320.15,335.93 L321.78,336.14 L323.41,336.36 L325.03,336.57 L326.66,336.78 L328.29,336.99 L329.91,337.20 L331.54,337.41 L333.17,337.61 L334.80,337.81 L336.42,338.01 L338.05,338.21 L339.68,338.40 L341.30,338.59 L342.93,338.79 L344.56,338.98 L346.18,339.16 L347.81,339.35 L349.44,339.53 L351.06,339.72 L352.69,339.90 L354.32,340.08 L355.94,340.26 L357.57,340.43 L359.20,340.61 L360.82,340.78 L362.45,340.95 L364.08,341.12 L365.70,341.29 L367.33,341.46 L368.96,341.63 L370.58,341.79 L372.21,341.95 L373.84,342.12 L375.47,342.28 L377.09,342.44 L378.72,342.59 L380.35,342.75 L381.97,342.91 L383.60,343.06 L385.23,343.21 L386.85,343.37 L388.48,343.52 L390.11,343.67 L391.73,343.81 L393.36,343.96 L394.99,344.11 L396.61,344.25 L398.24,344.39 L399.87,344.54 L401.49,344.68 L403.12,344.82 L404.75,344.96 L406.37,345.10 L408.00,345.23 L409.63,345.37 L411.26,345.50 L412.88,345.64 L414.51,345.77 L416.14,345.90 L417.76,346.03 L419.39,346.16 L421.02,346.29 L422.64,346.42 L424.27,346.55 L425.90,346.68 L427.52,346.80 L429.15,346.93 L430.78,347.05 L432.40,347.17 L434.03,347.29 L435.66,347.42 L437.28,347.54 L438.91,347.66 L440.54,347.77 L442.16,347.89 L443.79,348.01 L445.42,348.13 L447.04,348.24 L448.67,348.36 L450.30,348.47 L451.93,348.58 L453.55,348.70 L455.18,348.81 L456.81,348.92 L458.43,349.03 L460.06,349.14 L461.69,349.25 L463.31,349.35 L464.94,349.46 L466.57,349.57 L468.19,349.67 L469.82,349.78 L471.45,349.88 L473.07,349.99 L474.70,350.09 L476.33,350.19 L477.95,350.30 L479.58,350.40 L481.21,350.50 L482.83,350.60 L484.46,350.70 L486.09,350.80 L487.72,350.90 L489.34,350.99 L490.97,351.09 L492.60,351.19 L494.22,351.28 L495.85,351.38 L497.48,351.47 L499.10,351.57 L500.73,351.66 L502.36,351.75 L503.98,351.85 L505.61,351.94 L507.24,352.03 L508.86,352.12 L510.49,352.21 L512.12,352.30 L513.74,352.39 L515.37,352.48 L517.00,352.57 L518.62,352.66 L520.25,352.74 L521.88,352.83 L523.51,352.92 L525.13,353.00 L526.76,353.09 L528.39,353.17 L530.01,353.26 L531.64,353.34 L533.27,353.43 L534.89,353.51 L536.52,353.59 L538.15,353.67 L539.77,353.76 L541.40,353.84" fill="none" stroke="#d62728" stroke-width="3.7" stroke-dasharray="3.1 4.11" stroke-dashoffset="-0.55"/></g>
<rect x="95.35" y="8.5" width="422.15" height="385.9" fill="none" stroke="#000" stroke-width="2"/>
<g class="tk">
<text transform="translate(0,401.95) scale(0.97,1)" x="31.29 43.64 50.31 63.40 76.50" font-size="20.2" font-style="normal" >0.000</text>
<text transform="translate(0,353.65) scale(0.97,1)" x="31.29 43.64 50.31 63.40 76.53" font-size="20.2" font-style="normal" >0.001</text>
<text transform="translate(0,305.35) scale(0.97,1)" x="31.29 43.64 50.31 63.40 76.50" font-size="20.2" font-style="normal" >0.002</text>
<text transform="translate(0,257.05) scale(0.97,1)" x="31.29 43.64 50.31 63.40 76.56" font-size="20.2" font-style="normal" >0.003</text>
<text transform="translate(0,208.75) scale(0.97,1)" x="31.29 43.64 50.31 63.40 76.56" font-size="20.2" font-style="normal" >0.004</text>
<text transform="translate(0,160.45) scale(0.97,1)" x="31.29 43.64 50.31 63.40 76.52" font-size="20.2" font-style="normal" >0.005</text>
<text transform="translate(0,112.15) scale(0.97,1)" x="31.29 43.64 50.31 63.40 76.43" font-size="20.2" font-style="normal" >0.006</text>
<text transform="translate(0,63.85) scale(0.97,1)" x="31.29 43.64 50.31 63.40 76.49" font-size="20.2" font-style="normal" >0.007</text>
<text transform="translate(0,15.55) scale(0.97,1)" x="31.29 43.64 50.31 63.40 76.50" font-size="20.2" font-style="normal" >0.008</text>
<text transform="translate(0,413.20) scale(0.97,1)" x="111.34" font-size="20.2" font-style="normal" >0</text>
<text transform="translate(0,413.20) scale(0.97,1)" x="211.27 223.40 236.29 248.87" font-size="20.2" font-style="normal" >1000</text>
<text transform="translate(0,413.20) scale(0.97,1)" x="330.10 342.89 355.41 368.51" font-size="20.2" font-style="normal" >2000</text>
<text transform="translate(0,413.20) scale(0.97,1)" x="450.16 462.11 474.64 487.42" font-size="20.2" font-style="normal" >3000</text>
</g>
<text transform="translate(281.69,436.60) scale(1.2291,1.0)" font-size="19.8" font-style="italic" fill="#000" >t</text>
<text transform="translate(295.62,436.60) scale(0.8000,1.0)" font-size="19.8" font-style="normal" fill="#000" >(</text>
<text transform="translate(303.68,436.60) scale(1.0359,1.0)" font-size="19.8" font-style="normal" fill="#000" >ps</text>
<text transform="translate(327.61,436.60) scale(0.8000,1.0)" font-size="19.8" font-style="normal" fill="#000" >)</text>
<g transform="translate(16.7,234.0) rotate(-90)"><text transform="translate(7.42,0.00) scale(0.8958,1.0)" font-size="20.0" font-style="italic" fill="#000" >x</text><path d="M5.1,-15.1 L1.0,-6.35 L5.1,2.4 M19.3,-15.1 L23.6,-6.35 L19.3,2.4" fill="none" stroke="#000" stroke-width="1.3" stroke-linejoin="miter"/><text transform="translate(25.35,2.60) scale(1.4460,1.0)" font-size="14.5" font-style="italic" fill="#000" >t</text><text transform="translate(31.92,2.60) scale(1.0569,1.0)" font-size="14.5" font-style="italic" fill="#000" >,</text><text transform="translate(38.36,2.60) scale(0.9020,1.0)" font-size="14.5" font-style="italic" fill="#000" >Q</text><text transform="translate(48.90,2.60) scale(1.1530,1.0)" font-size="14.5" font-style="italic" fill="#000" >,</text><text transform="translate(56.67,2.60) scale(1.0382,1.0)" font-size="14.5" font-style="italic" fill="#000" >β</text></g>
<path d="M294.5,36.3H342.7" stroke="#1f77b4" stroke-width="3.7" fill="none"/>
<g class="lg">
<text transform="translate(356.56,41.30) scale(0.9028,1.0)" font-size="15.9" font-style="italic" fill="#000" >F</text>
<rect x="370.5" y="34.55" width="10.0" height="1.25"/><rect x="370.5" y="38.05" width="10.0" height="1.25"/>
<text transform="translate(0,41.30) scale(1.056,1)" x="365.52 375.22 385.26 394.82" font-size="15.9" font-style="normal" >4000</text>
<text transform="translate(430.63,41.30) scale(1.0280,1.0)" font-size="15.9" font-style="normal" fill="#000" >W</text>
<text transform="translate(448.60,41.30) scale(0.8943,1.07)" font-size="15.9" font-style="normal" fill="#000" >s</text>
<text transform="translate(457.39,30.70) scale(0.9089,1.0)" font-size="7.4" font-style="normal" fill="#000" class="fr">1</text>
<path d="M457.6,33.20H463.2" stroke="#000" stroke-width="0.9"/>
<text transform="translate(458.05,39.40) scale(0.9492,1.0)" font-size="7.4" font-style="normal" fill="#000" class="fr">2</text>
<text transform="translate(464.30,43.20) scale(1.2677,1.0)" font-size="15.9" font-style="normal" fill="#000" >/</text>
<text transform="translate(469.40,41.30) scale(1.1864,1.05)" font-size="15.9" font-style="normal" fill="#000" >cm</text>
<text transform="translate(493.87,35.70) scale(1.1374,1.0)" font-size="11.0" font-style="normal" fill="#000" >2</text>
</g>
<path d="M294.5,67.5H342.7" stroke="#ff7f0e" stroke-width="3.7" fill="none" stroke-dasharray="21.1 4.26"/>
<g class="lg">
<text transform="translate(356.56,72.50) scale(0.9028,1.0)" font-size="15.9" font-style="italic" fill="#000" >F</text>
<rect x="370.5" y="65.75" width="10.0" height="1.25"/><rect x="370.5" y="69.25" width="10.0" height="1.25"/>
<text transform="translate(0,72.50) scale(1.056,1)" x="365.51 375.22 385.26 394.82" font-size="15.9" font-style="normal" >3000</text>
<text transform="translate(430.63,72.50) scale(1.0280,1.0)" font-size="15.9" font-style="normal" fill="#000" >W</text>
<text transform="translate(448.60,72.50) scale(0.8943,1.07)" font-size="15.9" font-style="normal" fill="#000" >s</text>
<text transform="translate(457.39,61.90) scale(0.9089,1.0)" font-size="7.4" font-style="normal" fill="#000" class="fr">1</text>
<path d="M457.6,64.40H463.2" stroke="#000" stroke-width="0.9"/>
<text transform="translate(458.05,70.60) scale(0.9492,1.0)" font-size="7.4" font-style="normal" fill="#000" class="fr">2</text>
<text transform="translate(464.30,74.40) scale(1.2677,1.0)" font-size="15.9" font-style="normal" fill="#000" >/</text>
<text transform="translate(469.40,72.50) scale(1.1864,1.05)" font-size="15.9" font-style="normal" fill="#000" >cm</text>
<text transform="translate(493.87,66.90) scale(1.1374,1.0)" font-size="11.0" font-style="normal" fill="#000" >2</text>
</g>
<path d="M294.5,98.2H342.7" stroke="#2ca02c" stroke-width="3.7" fill="none" stroke-dasharray="17.3 4.3 3.0 4.27"/>
<g class="lg">
<text transform="translate(356.56,103.20) scale(0.9028,1.0)" font-size="15.9" font-style="italic" fill="#000" >F</text>
<rect x="370.5" y="96.45" width="10.0" height="1.25"/><rect x="370.5" y="99.95" width="10.0" height="1.25"/>
<text transform="translate(0,103.20) scale(1.056,1)" x="365.46 375.22 385.26 394.82" font-size="15.9" font-style="normal" >2000</text>
<text transform="translate(430.63,103.20) scale(1.0280,1.0)" font-size="15.9" font-style="normal" fill="#000" >W</text>
<text transform="translate(448.60,103.20) scale(0.8943,1.07)" font-size="15.9" font-style="normal" fill="#000" >s</text>
<text transform="translate(457.39,92.60) scale(0.9089,1.0)" font-size="7.4" font-style="normal" fill="#000" class="fr">1</text>
<path d="M457.6,95.10H463.2" stroke="#000" stroke-width="0.9"/>
<text transform="translate(458.05,101.30) scale(0.9492,1.0)" font-size="7.4" font-style="normal" fill="#000" class="fr">2</text>
<text transform="translate(464.30,105.10) scale(1.2677,1.0)" font-size="15.9" font-style="normal" fill="#000" >/</text>
<text transform="translate(469.40,103.20) scale(1.1864,1.05)" font-size="15.9" font-style="normal" fill="#000" >cm</text>
<text transform="translate(493.87,97.60) scale(1.1374,1.0)" font-size="11.0" font-style="normal" fill="#000" >2</text>
</g>
<path d="M294.5,128.6H342.7" stroke="#d62728" stroke-width="3.7" fill="none" stroke-dasharray="3.1 4.11"/>
<g class="lg">
<text transform="translate(356.56,133.60) scale(0.9028,1.0)" font-size="15.9" font-style="italic" fill="#000" >F</text>
<rect x="370.5" y="126.85" width="10.0" height="1.25"/><rect x="370.5" y="130.35" width="10.0" height="1.25"/>
<text transform="translate(0,133.60) scale(1.056,1)" x="365.53 375.22 385.26 394.82" font-size="15.9" font-style="normal" >1000</text>
<text transform="translate(430.63,133.60) scale(1.0280,1.0)" font-size="15.9" font-style="normal" fill="#000" >W</text>
<text transform="translate(448.60,133.60) scale(0.8943,1.07)" font-size="15.9" font-style="normal" fill="#000" >s</text>
<text transform="translate(457.39,123.00) scale(0.9089,1.0)" font-size="7.4" font-style="normal" fill="#000" class="fr">1</text>
<path d="M457.6,125.50H463.2" stroke="#000" stroke-width="0.9"/>
<text transform="translate(458.05,131.70) scale(0.9492,1.0)" font-size="7.4" font-style="normal" fill="#000" class="fr">2</text>
<text transform="translate(464.30,135.50) scale(1.2677,1.0)" font-size="15.9" font-style="normal" fill="#000" >/</text>
<text transform="translate(469.40,133.60) scale(1.1864,1.05)" font-size="15.9" font-style="normal" fill="#000" >cm</text>
<text transform="translate(493.87,128.00) scale(1.1374,1.0)" font-size="11.0" font-style="normal" fill="#000" >2</text>
</g>
</g>
</svg></body></html>
